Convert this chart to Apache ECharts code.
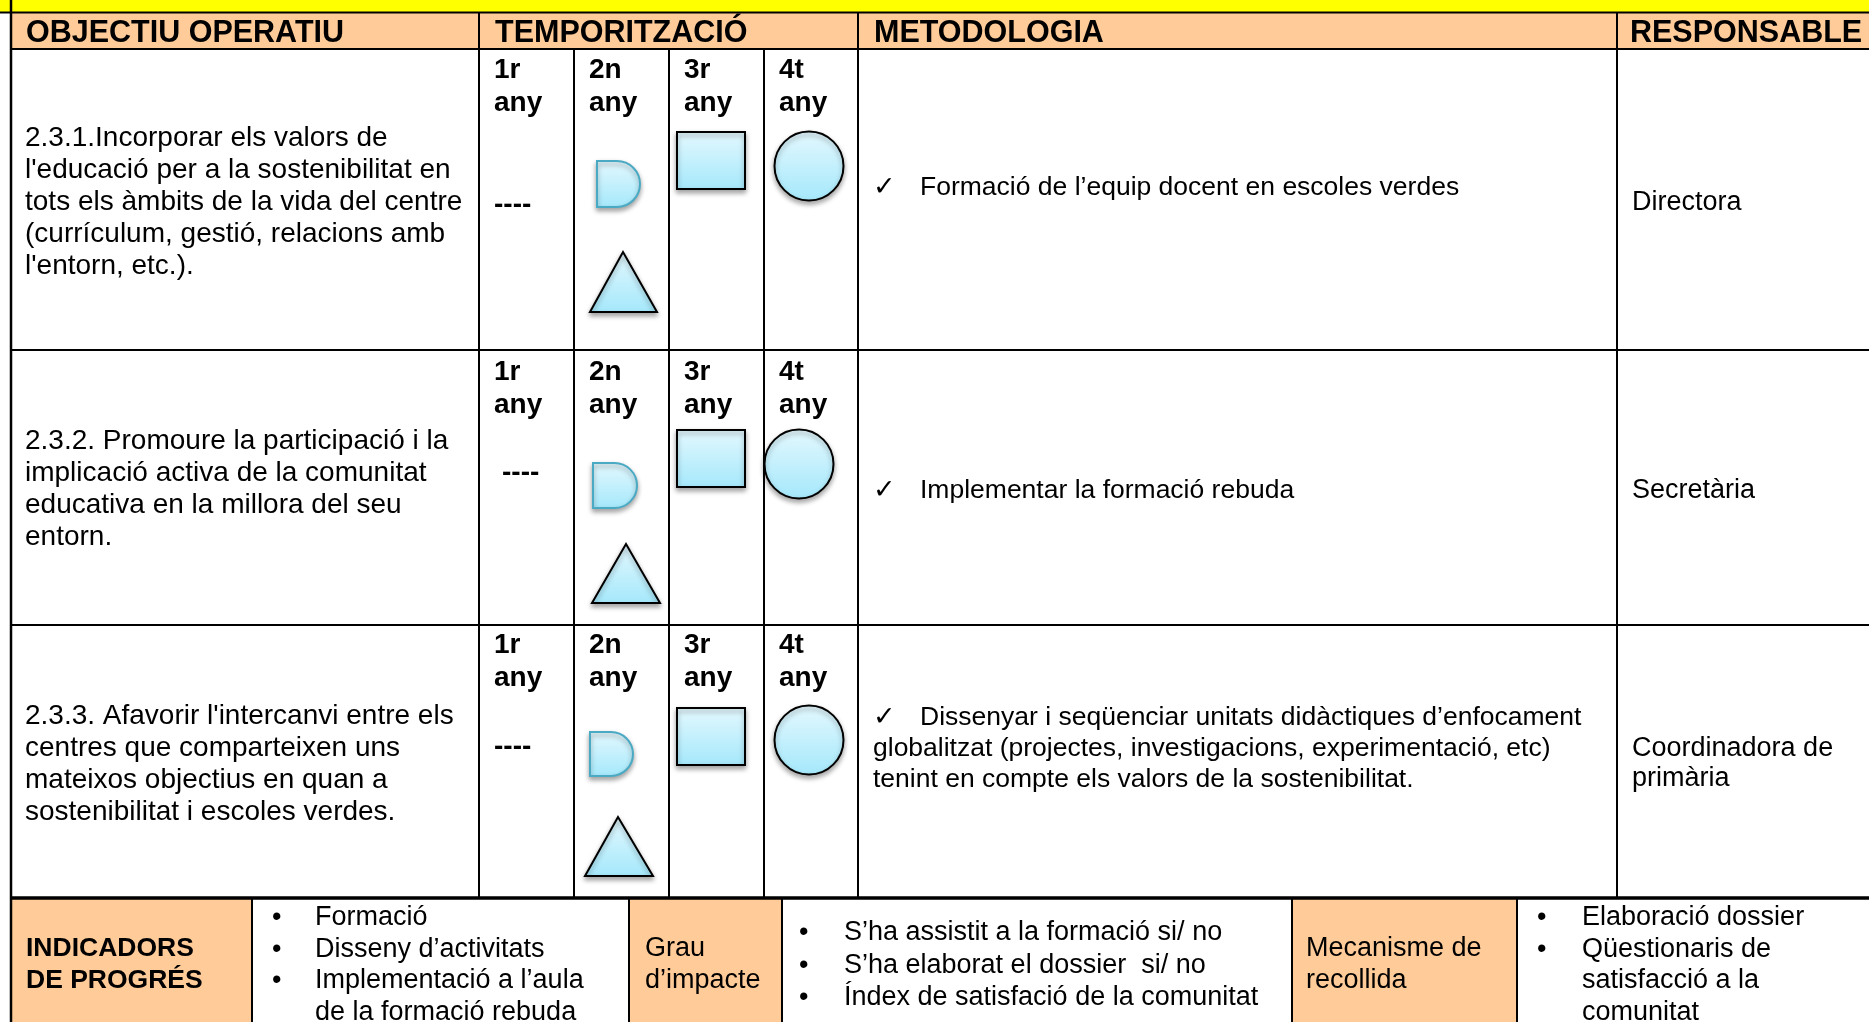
<!DOCTYPE html>
<html><head><meta charset="utf-8">
<script src="https://cdn.jsdelivr.net/npm/echarts@6/dist/echarts.min.js"></script>
<style>html,body{margin:0;padding:0;background:#fff}#c{width:1869px;height:1022px}</style>
</head><body><div id="c"></div>
<script>
// ---------------- DATA ----------------
const headers = ['OBJECTIU OPERATIU', 'TEMPORITZACIÓ', 'METODOLOGIA', 'RESPONSABLE'];
const yearLabels = ['1r\nany', '2n\nany', '3r\nany', '4t\nany'];
const objectives = [
  "2.3.1.Incorporar els valors de\nl'educació per a la sostenibilitat en\ntots els àmbits de la vida del centre\n(currículum, gestió, relacions amb\nl'entorn, etc.).",
  "2.3.2. Promoure la participació i la\nimplicació activa de la comunitat\neducativa en la millora del seu\nentorn.",
  "2.3.3. Afavorir l'intercanvi entre els\ncentres que comparteixen uns\nmateixos objectius en quan a\nsostenibilitat i escoles verdes."
];
// marks shown per objective (rows) and per year (columns)
const yearMarks = [
  [['dash'], ['delay', 'triangle'], ['square'], ['circle']],
  [['dash'], ['delay', 'triangle'], ['square'], ['circle']],
  [['dash'], ['delay', 'triangle'], ['square'], ['circle']]
];
const methodology = [
  "Formació de l’equip docent en escoles verdes",
  "Implementar la formació rebuda",
  "Dissenyar i seqüenciar unitats didàctiques d’enfocament\nglobalitzat (projectes, investigacions, experimentació, etc)\ntenint en compte els valors de la sostenibilitat."
];
const responsables = ['Directora', 'Secretària', 'Coordinadora de\nprimària'];
const indicatorsLabel = 'INDICADORS\nDE PROGRÉS';
const indicators = ['Formació', 'Disseny d’activitats', 'Implementació a l’aula\nde la formació rebuda'];
const impactLabel = 'Grau\nd’impacte';
const impactItems = ['S’ha assistit a la formació si/ no', 'S’ha elaborat el dossier  si/ no', 'Índex de satisfació de la comunitat'];
const mechanismLabel = 'Mecanisme de\nrecollida';
const mechanismItems = ['Elaboració dossier', 'Qüestionaris de\nsatisfacció a la\ncomunitat'];

// ---------------- LAYOUT ----------------
const W = 1869, H = 1022;
const FF = '"Liberation Sans", Arial, Helvetica, sans-serif';
const LY = {
  yellowEnd: 12.5, headTop: 13, headBottom: 49,
  rowTops: [49, 350, 625], rowBottoms: [350, 625, 898], bottomTop: 898,
  left: 11, objEnd: 479, yearCols: [479, 574, 669, 764], metStart: 858, respStart: 1617,
  bottomCols: [252, 629, 782, 1292, 1517],
  headTextX: [26, 495, 874, 1630], headCy: 33.5,
  objTextX: 25, objCy: [138, 441, 716.5], objLh: 32,
  yearDx: 15, yearCy: [70, 372, 645], yearLh: 33,
  metCheckX: 873, metTextX: 920, metCy: [187.5, 491, 717.5], metLh: 31,
  respX: 1632, respCy: [202.5, 491, 748.5], respLh: 30,
  botLabelCy: 949, botLh: 31.5,
  indLabelX: 26, indBulletX: 272, indTextX: 315, indCy: 918,
  impLabelX: 645, impBulletX: 799, impTextX: 844, impCy: 933, impLh: 32.5,
  mecLabelX: 1306, mecBulletX: 1537, mecTextX: 1582, mecCy: 918
};
// placement of each mark inside its year cell (offsets from cell left / row top), per row
const markPlace = [
  {dash: {dx: 15, cy: 156.5}, delay: {dx: 23, dy: 112, w: 43, h: 46}, triangle: {ax: 49, ay: 203, bx0: 16, bx1: 83, by: 263}, square: {dx: 8, dy: 83, w: 68, h: 57}, circle: {cx: 45, cy: 117, r: 34.5}},
  {dash: {dx: 23, cy: 123.5}, delay: {dx: 19, dy: 113, w: 44, h: 45}, triangle: {ax: 52, ay: 194, bx0: 18, bx1: 86, by: 253}, square: {dx: 8, dy: 80, w: 68, h: 57}, circle: {cx: 35, cy: 114, r: 34.5}},
  {dash: {dx: 15, cy: 122.5}, delay: {dx: 16, dy: 107, w: 43, h: 44}, triangle: {ax: 44, ay: 192, bx0: 11, bx1: 79, by: 251}, square: {dx: 8, dy: 83, w: 68, h: 57}, circle: {cx: 45, cy: 115, r: 34.5}}
];
const ORANGE = '#FFCC99', YELLOW = '#FFFF00', INK = '#000';
const shapeFill = {type: 'linear', x: 0, y: 0, x2: 0, y2: 1, colorStops: [{offset: 0, color: '#e4f8fe'}, {offset: 1, color: '#a4e8fb'}]};
const shadow = {shadowBlur: 5, shadowColor: 'rgba(0,0,0,0.35)', shadowOffsetY: 3, shadowOffsetX: 0};

// ---------------- BUILD ITEMS ----------------
const fills = [
  {x0: 0, y0: 0, x1: W, y1: LY.yellowEnd, c: YELLOW},
  {x0: LY.left, y0: LY.headTop, x1: W, y1: LY.headBottom, c: ORANGE},
  {x0: LY.left, y0: LY.bottomTop, x1: LY.bottomCols[0], y1: H, c: ORANGE},
  {x0: LY.bottomCols[1], y0: LY.bottomTop, x1: LY.bottomCols[2], y1: H, c: ORANGE},
  {x0: LY.bottomCols[3], y0: LY.bottomTop, x1: LY.bottomCols[4], y1: H, c: ORANGE}
];
const lines = [];
lines.push({x0: 0, y0: LY.yellowEnd, x1: W, y1: LY.yellowEnd, w: 2});
lines.push({x0: LY.left, y0: LY.headBottom, x1: W, y1: LY.headBottom, w: 2});
LY.rowBottoms.forEach((y, i) => lines.push({x0: LY.left, y0: y, x1: W, y1: y, w: i === 2 ? 3.5 : 2}));
lines.push({x0: LY.left, y0: 0, x1: LY.left, y1: H, w: 2.5});
[LY.objEnd, LY.metStart, LY.respStart].forEach(x => lines.push({x0: x, y0: LY.yellowEnd, x1: x, y1: LY.bottomTop, w: 2}));
LY.yearCols.slice(1).forEach(x => lines.push({x0: x, y0: LY.headBottom, x1: x, y1: LY.bottomTop, w: 2}));
LY.bottomCols.forEach(x => lines.push({x0: x, y0: LY.bottomTop, x1: x, y1: H, w: 2}));

const texts = [];
function T(x, cy, text, font, lh) { texts.push({x, cy, text, font, lh: lh || 31}); }
const F_OBJ = '28px ' + FF, F_MET = '26.5px ' + FF, F_REG = '27px ' + FF;
const F_HEAD = 'bold 30.5px ' + FF, F_YEAR = 'bold 28px ' + FF, F_BLAB = 'bold 26.5px ' + FF;
const F_CHECK = '27px "DejaVu Sans", sans-serif';
headers.forEach((h, i) => T(LY.headTextX[i], LY.headCy, h, F_HEAD, 36));
objectives.forEach((o, r) => {
  T(LY.objTextX, LY.objCy[r], o, F_OBJ, LY.objLh);
  yearLabels.forEach((y, c) => T(LY.yearCols[c] + LY.yearDx, LY.yearCy[r], y, F_YEAR, LY.yearLh));
  const mLines = methodology[r].split('\n');
  T(LY.metCheckX, LY.metCy[r], '✓', F_CHECK, LY.metLh);
  T(LY.metTextX, LY.metCy[r], mLines[0], F_MET, LY.metLh);
  if (mLines.length > 1) T(LY.metCheckX, LY.metCy[r] + LY.metLh, mLines.slice(1).join('\n'), F_MET, LY.metLh);
  T(LY.respX, LY.respCy[r], responsables[r], F_REG, LY.respLh);
});
T(LY.indLabelX, LY.botLabelCy, indicatorsLabel, F_BLAB, LY.botLh);
T(LY.impLabelX, LY.botLabelCy, impactLabel, F_REG, LY.botLh);
T(LY.mecLabelX, LY.botLabelCy, mechanismLabel, F_REG, LY.botLh);
function bulletList(items, bx, tx, cy0, lh) {
  let k = 0;
  items.forEach(it => {
    const cy = cy0 + k * lh;
    T(bx, cy, '•', F_REG, lh);
    T(tx, cy, it, F_REG, lh);
    k += it.split('\n').length;
  });
}
bulletList(indicators, LY.indBulletX, LY.indTextX, LY.indCy, LY.botLh);
bulletList(impactItems, LY.impBulletX, LY.impTextX, LY.impCy, LY.impLh);
bulletList(mechanismItems, LY.mecBulletX, LY.mecTextX, LY.mecCy, LY.botLh);

const marks = [];
yearMarks.forEach((row, r) => row.forEach((list, c) => list.forEach(kind => {
  marks.push({kind, x: LY.yearCols[c], y: LY.rowTops[r], p: markPlace[r][kind]});
})));

// ---------------- CHART ----------------
const chart = echarts.init(document.getElementById('c'), null, {renderer: 'canvas'});
const P = (api, x, y) => api.coord([x, y]);
chart.setOption({
  animation: false,
  backgroundColor: '#fff',
  grid: {left: 0, right: 0, top: 0, bottom: 0},
  xAxis: {type: 'value', min: 0, max: W, show: false},
  yAxis: {type: 'value', min: 0, max: H, inverse: true, show: false},
  series: [
    {
      type: 'custom', clip: false, z: 1,
      data: fills.map(f => [f.x0, f.y0, f.x1, f.y1]),
      renderItem(params, api) {
        const f = fills[params.dataIndex];
        const a = P(api, f.x0, f.y0), b = P(api, f.x1, f.y1);
        return {type: 'rect', shape: {x: a[0], y: a[1], width: b[0] - a[0], height: b[1] - a[1]}, style: {fill: f.c}};
      }
    },
    {
      type: 'custom', clip: false, z: 3,
      data: lines.map(l => [l.x0, l.y0, l.x1, l.y1]),
      renderItem(params, api) {
        const l = lines[params.dataIndex];
        const a = P(api, l.x0, l.y0), b = P(api, l.x1, l.y1);
        return {type: 'line', shape: {x1: a[0], y1: a[1], x2: b[0], y2: b[1]}, style: {stroke: INK, lineWidth: l.w}};
      }
    },
    {
      type: 'custom', clip: false, z: 4,
      data: marks.map(m => [m.x, m.y]),
      renderItem(params, api) {
        const m = marks[params.dataIndex], p = m.p;
        if (m.kind === 'dash') {
          const a = P(api, m.x + p.dx, m.y + p.cy);
          return {type: 'text', style: {x: a[0], y: a[1], text: '----', font: F_YEAR, fill: INK, align: 'left', verticalAlign: 'middle'}};
        }
        if (m.kind === 'square') {
          const a = P(api, m.x + p.dx, m.y + p.dy), b = P(api, m.x + p.dx + p.w, m.y + p.dy + p.h);
          return {type: 'rect', shape: {x: a[0], y: a[1], width: b[0] - a[0], height: b[1] - a[1]},
            style: Object.assign({fill: shapeFill, stroke: INK, lineWidth: 2}, shadow)};
        }
        if (m.kind === 'circle') {
          const a = P(api, m.x + p.cx, m.y + p.cy), e = P(api, m.x + p.cx + p.r, m.y + p.cy);
          return {type: 'circle', shape: {cx: a[0], cy: a[1], r: e[0] - a[0]},
            style: Object.assign({fill: shapeFill, stroke: INK, lineWidth: 2}, shadow)};
        }
        if (m.kind === 'triangle') {
          const A = P(api, m.x + p.ax, m.y + p.ay), B = P(api, m.x + p.bx1, m.y + p.by), C = P(api, m.x + p.bx0, m.y + p.by);
          return {type: 'polygon', shape: {points: [A, B, C]},
            style: Object.assign({fill: shapeFill, stroke: INK, lineWidth: 2, lineJoin: 'miter'}, shadow)};
        }
        if (m.kind === 'delay') {
          const a = P(api, m.x + p.dx, m.y + p.dy), b = P(api, m.x + p.dx + p.w, m.y + p.dy + p.h);
          const h = b[1] - a[1], r = h / 2, xm = b[0] - r;
          const d = `M${a[0]} ${a[1]} L${xm} ${a[1]} A${r} ${r} 0 0 1 ${xm} ${b[1]} L${a[0]} ${b[1]} Z`;
          return {type: 'path', shape: {pathData: d},
            style: Object.assign({fill: shapeFill, stroke: '#4aaac4', lineWidth: 2}, shadow)};
        }
      }
    },
    {
      type: 'custom', clip: false, z: 5,
      data: texts.map(t => [t.x, t.cy]),
      renderItem(params, api) {
        const t = texts[params.dataIndex];
        const a = P(api, t.x, t.cy - t.lh / 2);
        return {type: 'text', style: {x: a[0], y: a[1], text: t.text, font: t.font, lineHeight: t.lh, fill: INK, align: 'left', verticalAlign: 'top'}};
      }
    }
  ]
});
</script></body></html>
